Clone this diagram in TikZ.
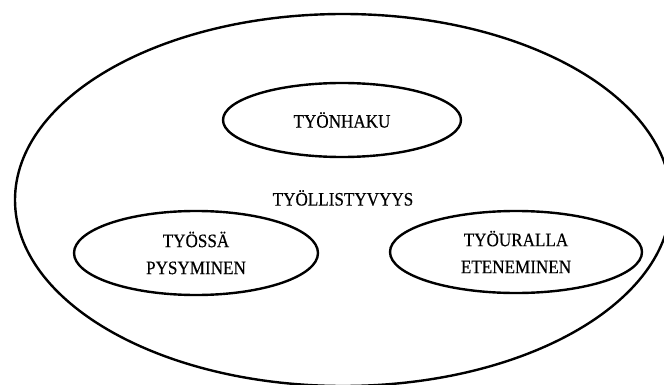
\documentclass[tikz,border=0pt]{standalone}
\usepackage{fontspec}
\setmainfont[FakeStretch=0.9,FakeBold=0.4]{Liberation Serif}
\usetikzlibrary{shapes.geometric}
\begin{document}
\begin{tikzpicture}[x=1pt,y=-1pt,
  ring/.style={draw=black, line width=2.4pt, ellipse, inner sep=0pt},
  lbl/.style={font=\fontsize{19}{27}\selectfont, align=center, inner sep=0pt}]
\useasboundingbox (0,0) rectangle (664,385);
\clip (0,0) rectangle (664,385);
\node[ring, minimum width=656pt, minimum height=372pt] (outer) at (343,200) {};
\node[ring, minimum width=238pt, minimum height=74pt] (haku) at (342,120) {};
\node[ring, minimum width=244pt, minimum height=84pt] (pysy) at (196,253) {};
\node[ring, minimum width=252pt, minimum height=82pt] (ete) at (516,252) {};
\node[lbl] (hakut) at (haku.center) {TYÖNHAKU};
\node[lbl] (tyoll) at (343,198) {TYÖLLISTYVYYS};
\node[lbl] (pysyt) at (pysy.center) {TYÖSSÄ\\PYSYMINEN};
\node[lbl] (etet) at (ete.center) {TYÖURALLA\\ETENEMINEN};
\end{tikzpicture}
\end{document}
